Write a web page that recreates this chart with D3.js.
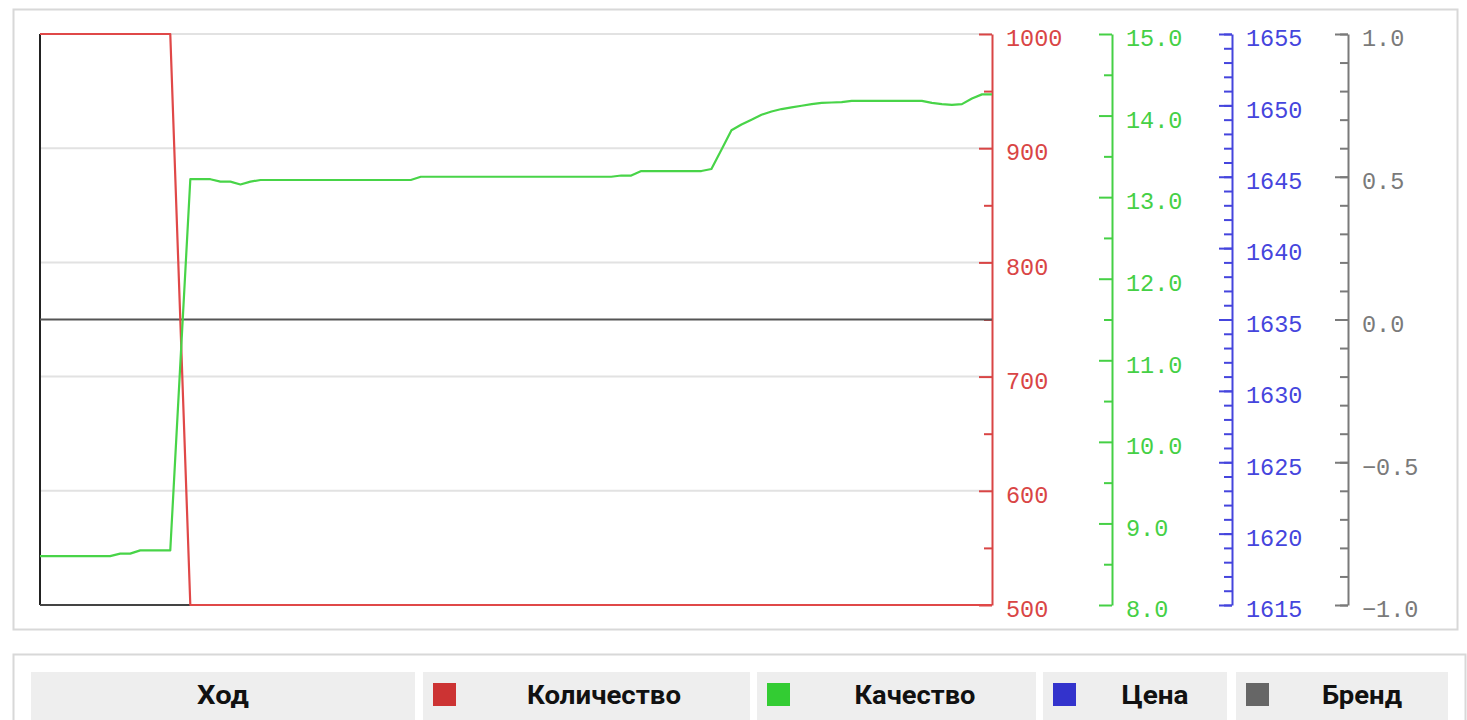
<!DOCTYPE html>
<html>
<head>
<meta charset="utf-8">
<script src="https://cdn.jsdelivr.net/npm/d3@7"></script>
<style>
  body { margin: 0; background: #fff; }
  svg { display: block; }
</style>
</head>
<body>
<svg id="chart" width="1467" height="720"></svg>
<script>
// ---- data ---------------------------------------------------------------
const turns = [
  0, 1, 2, 3, 4, 5, 6, 7, 8, 9, 10, 11, 12, 13, 14, 15, 16, 17, 18, 19,
  20, 21, 22, 23, 24, 25, 26, 27, 28, 29, 30, 31, 32, 33, 34, 35, 36, 37, 38, 39,
  40, 41, 42, 43, 44, 45, 46, 47, 48, 49, 50, 51, 52, 53, 54, 55, 56, 57, 58, 59,
  60, 61, 62, 63, 64, 65, 66, 67, 68, 69, 70, 71, 72, 73, 74, 75, 76, 77, 78, 79,
  80, 81, 82, 83, 84, 85, 86, 87, 88, 89, 90, 91, 92, 93, 94, 95
];

const quantity = [
  1000, 1000, 1000, 1000, 1000, 1000, 1000, 1000, 1000, 1000, 1000, 1000, 1000, 1000, 750, 500, 500, 500, 500, 500,
  500, 500, 500, 500, 500, 500, 500, 500, 500, 500, 500, 500, 500, 500, 500, 500, 500, 500, 500, 500,
  500, 500, 500, 500, 500, 500, 500, 500, 500, 500, 500, 500, 500, 500, 500, 500, 500, 500, 500, 500,
  500, 500, 500, 500, 500, 500, 500, 500, 500, 500, 500, 500, 500, 500, 500, 500, 500, 500, 500, 500,
  500, 500, 500, 500, 500, 500, 500, 500, 500, 500, 500, 500, 500, 500, 500, 500
];

const quality = [
  8.60, 8.60, 8.60, 8.60, 8.60, 8.60, 8.60, 8.60, 8.63, 8.63, 8.67, 8.67, 8.67, 8.67, 10.95, 13.22, 13.22, 13.22, 13.19, 13.19,
  13.155, 13.19, 13.21, 13.21, 13.21, 13.21, 13.21, 13.21, 13.21, 13.21, 13.21, 13.21, 13.21, 13.21, 13.21, 13.21, 13.21, 13.21, 13.25, 13.25,
  13.25, 13.25, 13.25, 13.25, 13.25, 13.25, 13.25, 13.25, 13.25, 13.25, 13.25, 13.25, 13.25, 13.25, 13.25, 13.25, 13.25, 13.25, 13.265, 13.265,
  13.32, 13.32, 13.32, 13.32, 13.32, 13.32, 13.32, 13.345, 13.58, 13.82, 13.89, 13.95, 14.01, 14.05, 14.08, 14.10, 14.12, 14.14, 14.155, 14.16,
  14.165, 14.18, 14.18, 14.18, 14.18, 14.18, 14.18, 14.18, 14.18, 14.155, 14.14, 14.13, 14.14, 14.21, 14.26, 14.26
];

// no price readings were recorded for these turns
const price = [];

const brand = [
  0, 0, 0, 0, 0, 0, 0, 0, 0, 0, 0, 0, 0, 0, 0, 0, 0, 0, 0, 0,
  0, 0, 0, 0, 0, 0, 0, 0, 0, 0, 0, 0, 0, 0, 0, 0, 0, 0, 0, 0,
  0, 0, 0, 0, 0, 0, 0, 0, 0, 0, 0, 0, 0, 0, 0, 0, 0, 0, 0, 0,
  0, 0, 0, 0, 0, 0, 0, 0, 0, 0, 0, 0, 0, 0, 0, 0, 0, 0, 0, 0,
  0, 0, 0, 0, 0, 0, 0, 0, 0, 0, 0, 0, 0, 0, 0, 0
];

const quantityTicks = [500, 600, 700, 800, 900, 1000];
const qualityTicks = [8, 9, 10, 11, 12, 13, 14, 15];
const priceTicks = [1615, 1620, 1625, 1630, 1635, 1640, 1645, 1650, 1655];
const brandTicks = [-1, -0.5, 0, 0.5, 1];

const legendHeader = "Ход";
const legendLabels = ["Количество", "Качество", "Цена", "Бренд"];
const seriesColors = ["#cc3333", "#33cc33", "#3333cc", "#666666"];

// ---- layout -------------------------------------------------------------
const svg = d3.select("#chart");
const plot = { left: 40, right: 992, top: 34, bottom: 605 };

// chart frame
svg.append("rect")
  .attr("x", 13.5).attr("y", 9.5).attr("width", 1444).attr("height", 620)
  .attr("fill", "none").attr("stroke", "#d8d8d8").attr("stroke-width", 2);

const x = d3.scaleLinear().domain([turns[0], turns[turns.length - 1]]).range([plot.left, plot.right]);
const yQuantity = d3.scaleLinear().domain([500, 1000]).range([plot.bottom, plot.top]);
const yQuality = d3.scaleLinear().domain([8, 15]).range([plot.bottom, plot.top]);
const yPrice = d3.scaleLinear().domain([1615, 1655]).range([plot.bottom, plot.top]);
const yBrand = d3.scaleLinear().domain([-1, 1]).range([plot.bottom, plot.top]);

// horizontal grid at the quantity ticks
svg.append("g").selectAll("line")
  .data(quantityTicks)
  .join("line")
  .attr("x1", plot.left).attr("x2", plot.right)
  .attr("y1", d => yQuantity(d)).attr("y2", d => yQuantity(d))
  .attr("stroke", "#e2e2e2").attr("stroke-width", 2);

// left and bottom frame of the plot
svg.append("line")
  .attr("x1", plot.left).attr("x2", plot.left).attr("y1", plot.top).attr("y2", plot.bottom)
  .attr("stroke", "#222").attr("stroke-width", 2);
svg.append("line")
  .attr("x1", plot.left).attr("x2", plot.right).attr("y1", plot.bottom).attr("y2", plot.bottom)
  .attr("stroke", "#444").attr("stroke-width", 2);

// ---- axes ---------------------------------------------------------------
function drawAxis(xPos, scale, majors, minors, fmt, color) {
  const g = svg.append("g").attr("transform", `translate(${xPos},0)`);
  g.append("g")
    .call(d3.axisRight(scale).tickValues(minors).tickFormat("").tickSizeInner(-8).tickSizeOuter(0))
    .call(a => a.select(".domain").remove())
    .call(a => a.selectAll("line").attr("stroke", color).attr("stroke-width", 2));
  g.append("g")
    .call(d3.axisRight(scale).tickValues(majors).tickFormat(fmt).tickSizeInner(-13).tickSizeOuter(0).tickPadding(14))
    .call(a => a.select(".domain").attr("stroke", color).attr("stroke-width", 2))
    .call(a => a.selectAll("line").attr("stroke", color).attr("stroke-width", 2))
    .call(a => a.selectAll("text")
      .attr("fill", color)
      .attr("font-family", "'Liberation Mono', monospace")
      .attr("font-size", 23.5)
      .attr("dy", "0.5em"));
}

drawAxis(992, yQuantity, quantityTicks, d3.range(550, 1000, 100), d3.format("d"), "#d94545");
drawAxis(1112, yQuality, qualityTicks, d3.range(8.5, 15, 1), d3.format(".1f"), "#45d045");
drawAxis(1232, yPrice, priceTicks, d3.range(1615, 1656, 1), d3.format("d"), "#4545dd");
drawAxis(1348, yBrand, brandTicks, d3.range(-1, 1.001, 0.1).map(v => +v.toFixed(1)), d3.format(".1f"), "#7a7a7a");

// ---- series -------------------------------------------------------------
const seriesLine = (scale, values) =>
  d3.line().x((d, i) => x(turns[i])).y(d => scale(d))(values);

const layer = svg.append("g");
const series = [
  { values: brand, scale: yBrand, color: "#555555" },
  { values: price, scale: yPrice, color: "#4545dd" },
  { values: quantity, scale: yQuantity, color: "#e04848" },
  { values: quality, scale: yQuality, color: "#48d448" }
];
series.filter(s => s.values.length).forEach(s => {
  layer.append("path")
    .attr("d", seriesLine(s.scale, s.values))
    .attr("fill", "none")
    .attr("stroke", s.color)
    .attr("stroke-width", 2.2)
    .attr("stroke-linejoin", "round");
});

// ---- legend -------------------------------------------------------------
svg.append("rect")
  .attr("x", 13.5).attr("y", 654.5).attr("width", 1452).attr("height", 80)
  .attr("fill", "none").attr("stroke", "#d8d8d8").attr("stroke-width", 2);

const cells = [
  { x0: 31, x1: 415, label: legendHeader, color: null, tx: 223, tw: 52 },
  { x0: 423, x1: 750, label: legendLabels[0], color: seriesColors[0], tx: 604, tw: 154 },
  { x0: 757, x1: 1036, label: legendLabels[1], color: seriesColors[1], tx: 915, tw: 121 },
  { x0: 1043, x1: 1227, label: legendLabels[2], color: seriesColors[2], tx: 1155, tw: 67 },
  { x0: 1236, x1: 1448, label: legendLabels[3], color: seriesColors[3], tx: 1362, tw: 80 }
];

const cg = svg.append("g").selectAll("g").data(cells).join("g");
cg.append("rect")
  .attr("x", d => d.x0).attr("y", 672)
  .attr("width", d => d.x1 - d.x0).attr("height", 52)
  .attr("fill", "#eeeeee");
cg.filter(d => d.color).append("rect")
  .attr("x", d => d.x0 + 10).attr("y", 683)
  .attr("width", 23).attr("height", 23)
  .attr("fill", d => d.color);
cg.append("text")
  .attr("x", d => d.tx - d.tw / 2).attr("y", 704)
  .attr("textLength", d => d.tw)
  .attr("lengthAdjust", "spacingAndGlyphs")
  .attr("font-family", "Roboto, 'Noto Sans', sans-serif")
  .attr("font-weight", "bold")
  .attr("font-size", 25)
  .attr("fill", "#111")
  .text(d => d.label);
</script>
</body>
</html>
